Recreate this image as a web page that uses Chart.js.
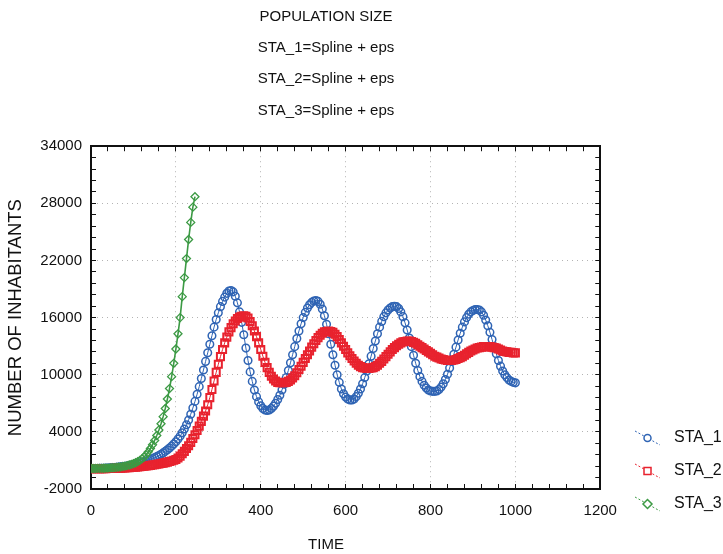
<!DOCTYPE html>
<html>
<head>
<meta charset="utf-8">
<script src="https://cdn.jsdelivr.net/npm/chart.js@4.4.1/dist/chart.umd.min.js"></script>
<style>
  html, body { margin: 0; padding: 0; background: #fff; }
  #wrap { width: 723px; height: 554px; }
</style>
</head>
<body>
<div id="wrap"><canvas id="popChart" width="723" height="554"></canvas></div>
<script>
// time grid, one sample every 5 time units
const timeSta12 = Array.from({ length: 201 }, (_, i) => i * 5);
const timeSta3 = Array.from({ length: 50 }, (_, i) => i * 5);

const sta1 = [
  150, 150, 155, 160, 165, 170, 180, 190, 200, 215, 230, 250, 270, 295, 320, 350, 385, 420, 460, 505, 555,
  610, 670, 735, 800, 870, 940, 1020, 1100, 1190, 1290,
  1400, 1520, 1650, 1790, 1950, 2120, 2300, 2500, 2720, 2960,
  3250, 3550, 3900, 4300, 4750, 5250, 5850, 6500, 7200, 7950,
  8750, 9600, 10500, 11400, 12300, 13200, 14100, 15000, 15800, 16500,
  17150, 17700, 18150, 18550, 18800, 18850, 18700, 18250, 17550, 16600,
  15500, 14200, 12800, 11500, 10300, 9300, 8400, 7700, 7150, 6750,
  6450, 6300, 6250, 6300, 6450, 6700, 7000, 7400, 7850, 8400,
  9000, 9700, 10450, 11250, 12100, 12950, 13800, 14600, 15350, 16000,
  16550, 17000, 17350, 17600, 17750, 17800, 17700, 17400, 16900, 16200,
  15300, 14300, 13200, 12100, 11000, 10000, 9200, 8500, 8000, 7650,
  7450, 7350, 7350, 7450, 7700, 8050, 8500, 9050, 9700, 10400,
  11150, 11950, 12750, 13550, 14300, 15000, 15600, 16100, 16500, 16800,
  17000, 17150, 17200, 17150, 16950, 16600, 16100, 15450, 14700, 13850,
  12950, 12050, 11200, 10450, 9800, 9300, 8900, 8600, 8400, 8300,
  8250, 8250, 8300, 8450, 8700, 9050, 9500, 10050, 10700, 11400,
  12150, 12900, 13650, 14350, 15000, 15550, 16000, 16350, 16600, 16750,
  16850, 16850, 16800, 16600, 16250, 15750, 15150, 14450, 13700, 12950,
  12200, 11500, 10900, 10400, 10000, 9700, 9450, 9300, 9200, 9150
];

const sta2 = [
  120, 120, 125, 125, 130, 130, 135, 140, 145, 150, 155, 165, 175, 185, 195, 205, 215, 230, 245, 260, 280,
  300, 320, 340, 365, 390, 420, 450, 480, 515, 550,
  590, 630, 675, 720, 770, 825, 885, 950, 1020, 1100,
  1250, 1450, 1700, 1950, 2250, 2550, 2900, 3300, 3700, 4150,
  4600, 5100, 5650, 6200, 6850, 7600, 8450, 9350, 10250, 11100,
  11900, 12650, 13350, 13950, 14500, 14950, 15350, 15650, 15900, 16050,
  16150, 16200, 16150, 15950, 15600, 15150, 14600, 14000, 13350, 12650,
  11950, 11300, 10750, 10250, 9850, 9550, 9350, 9200, 9150, 9150,
  9150, 9200, 9300, 9450, 9650, 9900, 10200, 10550, 10900, 11300,
  11700, 12100, 12500, 12900, 13250, 13600, 13900, 14150, 14350, 14500,
  14550, 14600, 14550, 14450, 14250, 14000, 13700, 13350, 13000, 12650,
  12300, 12000, 11700, 11450, 11200, 11000, 10850, 10750, 10700, 10650,
  10650, 10700, 10750, 10850, 11000, 11200, 11400, 11650, 11900, 12150,
  12400, 12650, 12850, 13050, 13200, 13350, 13450, 13500, 13550, 13550,
  13500, 13400, 13300, 13150, 13000, 12850, 12700, 12550, 12400, 12250,
  12100, 11950, 11850, 11750, 11650, 11600, 11550, 11500, 11500, 11500,
  11550, 11600, 11700, 11800, 11900, 12050, 12200, 12350, 12500, 12600,
  12700, 12800, 12850, 12900, 12950, 12950, 12950, 12950, 12900, 12850,
  12800, 12700, 12600, 12500, 12450, 12400, 12350, 12350, 12300, 12300
];

const sta3 = [
  150, 150, 155, 160, 165, 170, 180, 190, 200, 215,
  230, 250, 275, 300, 330, 370, 410, 460, 520, 590,
  670, 760, 870, 1000, 1160, 1360, 1600, 1900, 2250, 2650,
  3100, 3620, 4200, 4850, 5600, 6450, 7450, 8550, 9800, 11200,
  12700, 14300, 16000, 18200, 20200, 22200, 24200, 26000, 27600, 28700
];

const titleLines = ['POPULATION SIZE', 'STA_1=Spline + eps', 'STA_2=Spline + eps', 'STA_3=Spline + eps'];
const xMajorTicks = [0, 200, 400, 600, 800, 1000, 1200];
const yMajorTicks = [-2000, 4000, 10000, 16000, 22000, 28000, 34000];

const blue = '#2f64b4';
const red = '#e8222e';
const green = '#3c9a44';
const gridGray = '#b4b4b4';
const ink = '#111';

const toXY = (xs, ys) => ys.map((v, i) => ({ x: xs[i], y: v }));

// small legend glyph: dashed diagonal stroke with the series marker on it
function legendIcon(color, shape) {
  const c = document.createElement('canvas');
  c.width = 34; c.height = 20;
  const g = c.getContext('2d');
  g.strokeStyle = color;
  g.lineWidth = 1;
  g.setLineDash([2, 2]);
  g.beginPath(); g.moveTo(1, 3); g.lineTo(26, 17); g.stroke();
  g.setLineDash([]);
  g.lineWidth = 1.5;
  g.fillStyle = '#fff';
  const cx = 13.5, cy = 10;
  g.beginPath();
  if (shape === 'circle') {
    g.arc(cx, cy, 3.5, 0, Math.PI * 2);
  } else if (shape === 'rect') {
    g.rect(cx - 3.5, cy - 3.5, 7, 7);
  } else {
    g.moveTo(cx, cy - 4.5); g.lineTo(cx + 4.5, cy); g.lineTo(cx, cy + 4.5); g.lineTo(cx - 4.5, cy); g.closePath();
  }
  g.fill(); g.stroke();
  return c;
}
const icons = [legendIcon(blue, 'circle'), legendIcon(red, 'rect'), legendIcon(green, 'diamond')];

// Statistica centres its titles on the whole graph, not on the plot box
const nudgeBlocks = {
  id: 'nudgeBlocks',
  afterLayout(chart) {
    chart.boxes.forEach(b => {
      if (b.options && (b.options.text === 'TIME' || Array.isArray(b.options.text))) {
        b.left = 0;
        b.right = 652;
      }
    });
    const lg = chart.legend;
    if (lg) {
      const w = lg.right - lg.left;
      lg.left = 619;
      lg.right = 619 + w;
      lg.top -= 25;
      lg.bottom -= 25;
    }
  }
};

Chart.defaults.font.family = '"Liberation Sans", Arial, sans-serif';
Chart.defaults.color = ink;

const ctx = document.getElementById('popChart').getContext('2d');
const popChart = new Chart(ctx, {
  type: 'line',
  data: {
    datasets: [
      {
        label: 'STA_1',
        data: toXY(timeSta12, sta1),
        borderColor: blue,
        borderWidth: 1,
        pointStyle: 'circle',
        pointRadius: 3.8,
        pointBorderWidth: 1.5,
        pointBorderColor: blue,
        pointBackgroundColor: 'rgba(0,0,0,0)',
        order: 3
      },
      {
        label: 'STA_2',
        data: toXY(timeSta12, sta2),
        borderColor: red,
        borderWidth: 1,
        pointStyle: 'rect',
        pointRadius: 5,
        pointBorderWidth: 2,
        pointBorderColor: red,
        pointBackgroundColor: 'rgba(0,0,0,0)',
        order: 2
      },
      {
        label: 'STA_3',
        data: toXY(timeSta3, sta3),
        borderColor: green,
        borderWidth: 1.6,
        pointStyle: 'rectRot',
        pointRadius: 4,
        pointBorderWidth: 1.3,
        pointBorderColor: green,
        pointBackgroundColor: 'rgba(0,0,0,0)',
        order: 1
      }
    ]
  },
  options: {
    responsive: false,
    devicePixelRatio: 1,
    animation: false,
    events: [],
    layout: { padding: 0 },
    plugins: {
      title: {
        display: true,
        text: titleLines,
        color: ink,
        font: { size: 15, weight: 'normal', lineHeight: 2.087 },
        padding: { top: 1, bottom: 20 }
      },
      subtitle: {
        display: true,
        position: 'bottom',
        text: 'TIME',
        color: ink,
        font: { size: 15, weight: 'normal', lineHeight: 1.2 },
        padding: { top: 0, bottom: 0 }
      },
      legend: {
        position: 'right',
        align: 'end',
        labels: {
          usePointStyle: true,
          pointStyleWidth: 30,
          padding: 17,
          color: ink,
          font: { size: 16 },
          generateLabels: chart => chart.data.datasets.map((ds, i) => ({
            text: ds.label,
            pointStyle: icons[i],
            fillStyle: 'rgba(0,0,0,0)',
            strokeStyle: 'rgba(0,0,0,0)',
            lineWidth: 0,
            hidden: false,
            fontColor: ink,
            datasetIndex: i
          }))
        }
      },
      tooltip: { enabled: false }
    },
    scales: {
      x: {
        type: 'linear',
        position: 'bottom',
        min: 0,
        max: 1200,
        ticks: {
          stepSize: 40,
          autoSkip: false,
          maxRotation: 0,
          padding: 18,
          font: { size: 15 },
          callback: v => (xMajorTicks.includes(v) ? v : '')
        },
        grid: {
          color: c => (c.tick && xMajorTicks.includes(c.tick.value) ? gridGray : 'rgba(0,0,0,0)'),
          tickColor: ink,
          tickLength: -5,
          lineWidth: 1
        },
        border: { display: true, color: ink, width: 2, dash: [1, 4] },
        afterFit: s => { s.height = 47; }
      },
      x2: {
        type: 'linear',
        position: 'top',
        min: 0,
        max: 1200,
        ticks: { display: false, stepSize: 40, autoSkip: false },
        grid: { drawOnChartArea: false, tickColor: ink, tickLength: -5 },
        border: { display: true, color: ink, width: 2 },
        afterFit: s => { s.height = 0; }
      },
      y: {
        type: 'linear',
        position: 'left',
        min: -2000,
        max: 34000,
        ticks: {
          stepSize: 1200,
          autoSkip: false,
          padding: 14,
          font: { size: 15 },
          callback: v => (yMajorTicks.includes(v) ? v : '')
        },
        grid: {
          color: c => (c.tick && yMajorTicks.includes(c.tick.value) ? gridGray : 'rgba(0,0,0,0)'),
          tickColor: ink,
          tickLength: -5,
          lineWidth: 1
        },
        border: { display: true, color: ink, width: 2, dash: [1, 4] },
        title: {
          display: true,
          text: 'NUMBER OF INHABITANTS',
          color: ink,
          font: { size: 18.5 },
          padding: { top: 5, bottom: 0 }
        },
        afterFit: s => { s.width = 91; }
      },
      y2: {
        type: 'linear',
        position: 'right',
        min: -2000,
        max: 34000,
        ticks: { display: false, stepSize: 1200, autoSkip: false },
        grid: { drawOnChartArea: false, tickColor: ink, tickLength: -5 },
        border: { display: true, color: ink, width: 2 },
        afterFit: s => { s.width = 10; }
      }
    }
  },
  plugins: [nudgeBlocks]
});
</script>
</body>
</html>
